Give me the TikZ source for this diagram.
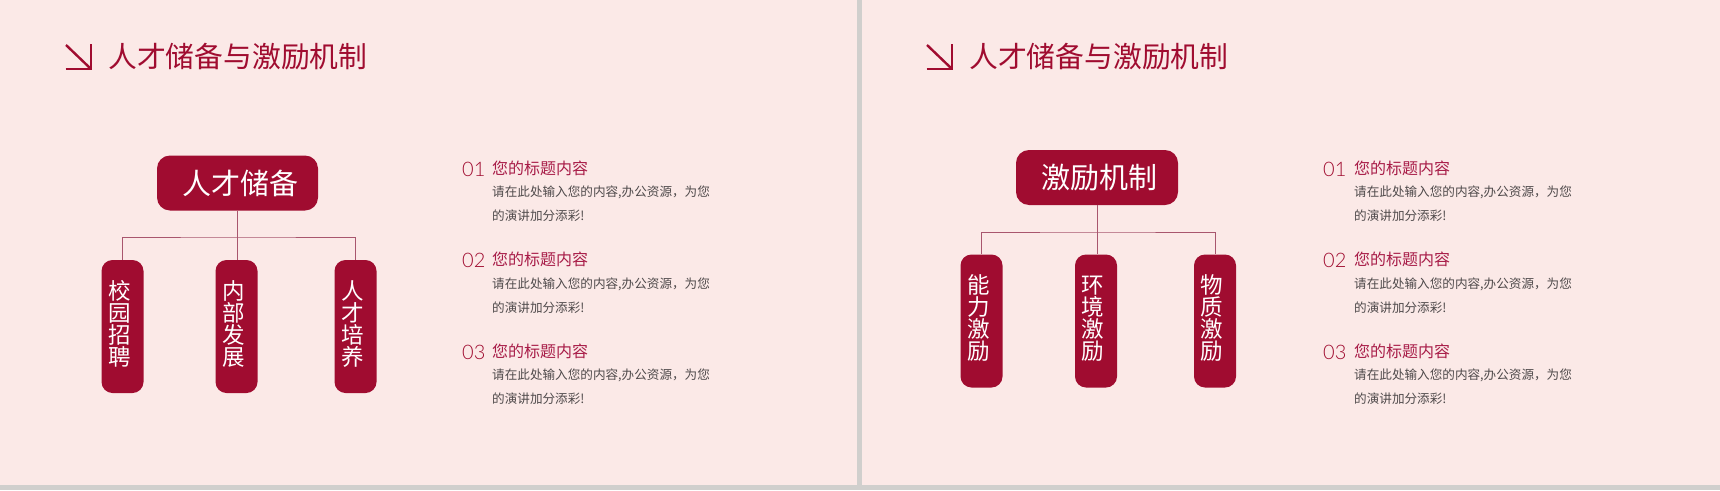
\documentclass[tikz,border=0pt]{standalone}
\usepackage{fontspec}
\setmainfont{Noto Sans CJK SC}
\newfontfamily\numfont{Lato Light}
\definecolor{pagebg}{HTML}{FBE9E7}
\definecolor{gapgrey}{HTML}{D0CFCD}
\definecolor{wine}{HTML}{A00C30}
\definecolor{headred}{HTML}{A81C48}
\definecolor{numred}{HTML}{A00C30}
\definecolor{linkcol}{HTML}{A8566E}
\definecolor{bodygrey}{HTML}{4F4A4B}
\newcommand{\lift}{\rule[-7pt]{0pt}{7pt}}
\tikzset{
  x=1pt,y=-1pt,
  panel/.style={fill=pagebg,draw=none},
  titletext/.style={anchor=west,inner sep=0pt,text=wine,font=\fontsize{28.8}{30}\selectfont},
  topbox/.style={draw=none,fill=wine,rounded corners=13pt,minimum width=#1,minimum height=55pt,inner sep=0pt,text=white,align=right,font=\fontsize{29}{31}\selectfont},
  subbox/.style={draw=none,fill=wine,rounded corners=11pt,minimum width=42pt,minimum height=133pt,inner sep=0pt,text=white,text width=29pt,align=left,font=\fontsize{22.5}{22}\selectfont},
  link/.style={draw=linkcol,line width=0.9pt},
  titlearrow/.style={draw=wine,line width=2.4pt},
  numtext/.style={anchor=west,inner sep=0pt,text=numred,font=\fontsize{20}{22}\numfont},
  headtext/.style={anchor=west,inner sep=0pt,text=headred,font=\fontsize{16}{18}\selectfont},
  bodytext/.style={anchor=west,inner sep=0pt,text=bodygrey,align=left,font=\fontsize{12.6}{24}\selectfont},
}
\newcommand{\titleblock}[2]{%
  \coordinate (#1ac) at (#2+25,69);
  \coordinate (#1as) at (#2,45);
  \coordinate (#1ah) at (#2-0.5,69);
  \coordinate (#1av) at (#2+25,44);
  \draw[titlearrow] (#1as) -- (#1ac);
  \draw[titlearrow] (#1ah) -- (#1ac) -- (#1av);
  \node[titletext] (#1title) at (#2+42,57) {人才储备与激励机制};
}
\newcommand{\listblock}[3]{% prefix, x of number, x of text
  \foreach \n/\yh/\yb in {01/168/204,02/259/296,03/351/387}{
    \node[numtext] (#1n\n) at (#2,\yh+1) {\n};
    \node[headtext] (#1h\n) at (#3,\yh) {您的标题内容};
    \node[bodytext] (#1b\n) at (#3,\yb) {请在此处输入您的内容,办公资源，为您\\的演讲加分添彩!};
  }
}
\begin{document}
\begin{tikzpicture}
\useasboundingbox (0,0) rectangle (1720,490);
\fill[gapgrey] (0,0) rectangle (1720,490);
\fill[panel] (0,0) rectangle (857,485);
\fill[panel] (862,0) rectangle (1720,485);

\titleblock{l}{66}
\titleblock{r}{927}

% left chart
\node[topbox=161pt,text width=122pt] (lt) at (237.5,183) {人才储备};
\node[subbox] (la) at (122.5,326.5) {校\\园\\招\\聘\lift};
\node[subbox] (lb) at (236.5,326.5) {内\\部\\发\\展\lift};
\node[subbox] (lc) at (355.5,326.5) {人\\才\\培\\养\lift};
\coordinate (lj) at (237.5,237);
\draw[link] (la.north) |- (lj) -| (lc.north);
\draw[link] (lt.south) -- (lb.north -| lt.south);

% right chart
\node[topbox=162pt,text width=120pt] (rt) at (1097,177.5) {激励机制};
\node[subbox] (ra) at (981.5,321) {能\\力\\激\\励\lift};
\node[subbox] (rb) at (1096,321) {环\\境\\激\\励\lift};
\node[subbox] (rc) at (1215,321) {物\\质\\激\\励\lift};
\coordinate (rj) at (1097,232);
\draw[link] (ra.north) |- (rj) -| (rc.north);
\draw[link] (rt.south) -- (rb.north -| rt.south);

\listblock{l}{462}{492}
\listblock{r}{1323}{1354}
\end{tikzpicture}
\end{document}
